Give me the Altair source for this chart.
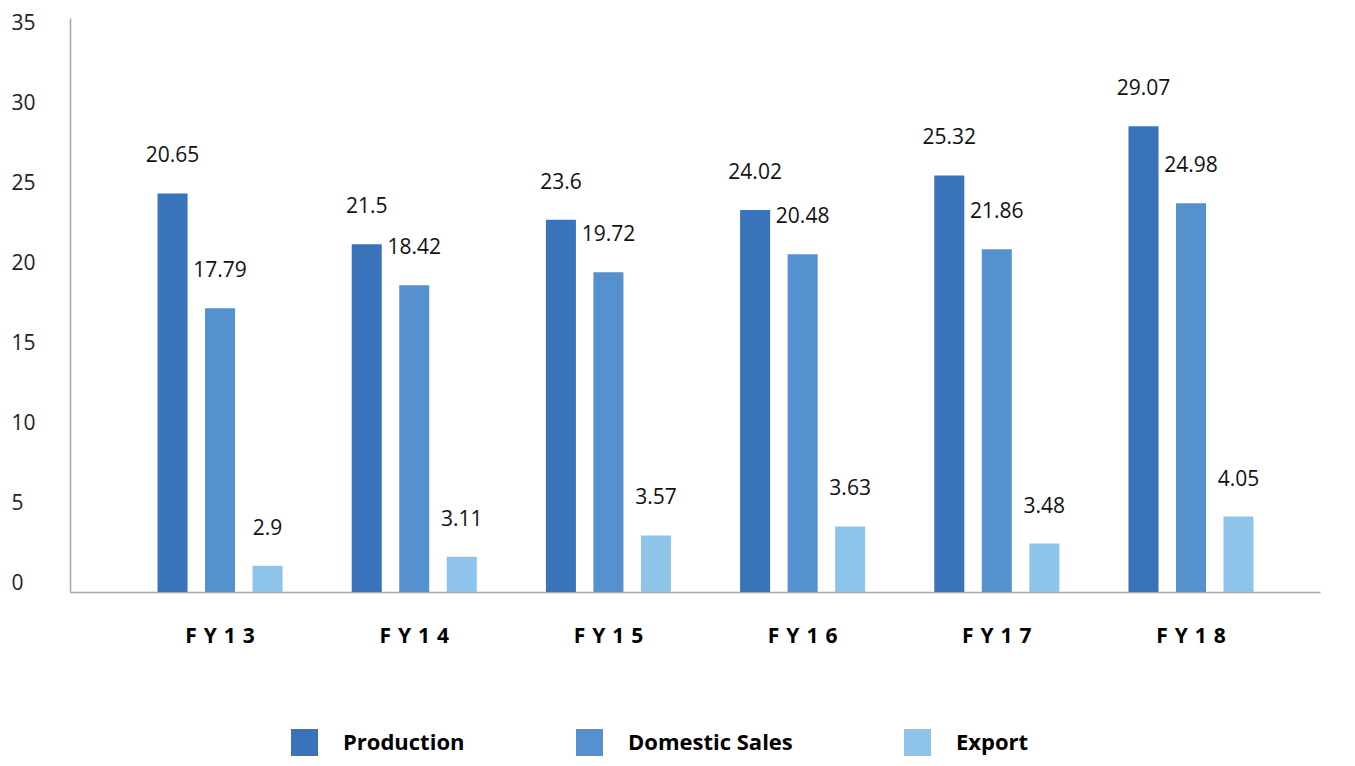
import altair as alt
import pandas as pd

years = ["FY13", "FY14", "FY15", "FY16", "FY17", "FY18"]
series = ["Production", "Domestic Sales", "Export"]
# bar heights as drawn in the picture
production_bar = [24.3, 21.2, 22.7, 23.3, 25.4, 28.4]
domestic_bar = [17.3, 18.7, 19.5, 20.6, 20.9, 23.7]
export_bar = [1.6, 2.15, 3.45, 4.0, 2.95, 4.6]
# values printed above the bars
production_label = [20.65, 21.5, 23.6, 24.02, 25.32, 29.07]
domestic_label = [17.79, 18.42, 19.72, 20.48, 21.86, 24.98]
export_label = [2.9, 3.11, 3.57, 3.63, 3.48, 4.05]
colors = ["#3973B9", "#5591CE", "#8EC3EA"]

rows = []
for i, y in enumerate(years):
    for s, bars, labs in zip(series,
                             [production_bar, domestic_bar, export_bar],
                             [production_label, domestic_label, export_label]):
        rows.append({"year": y, "series": s, "value": bars[i], "label": labs[i]})
df = pd.DataFrame(rows)

FONT = "Open Sans"

x = alt.X("year:N", sort=years, title=None,
          scale=alt.Scale(paddingInner=0, paddingOuter=0.2185, align=0.624),
          axis=alt.Axis(labelExpr="join(split(datum.label, ''), '\u2009\u2009')",
                        labelFont=FONT, labelFontSize=21, labelFontWeight="bold",
                        labelColor="#000000", labelPadding=33, labelAngle=0,
                        ticks=False, domainColor="#A6A6A6", domainWidth=1.5))
xo = alt.XOffset("series:N", sort=series,
                 scale=alt.Scale(paddingInner=0.368, paddingOuter=0.728))
y = alt.Y("value:Q", title=None,
          scale=alt.Scale(domain=[0, 35], nice=False),
          axis=alt.Axis(values=[0, 5, 10, 15, 20, 25, 30, 35], grid=False, ticks=False,
                        labelFont=FONT, labelFontSize=21, labelColor="#222222",
                        labelAlign="left", labelPadding=59,
                        labelOffset={"expr": "-8.5 + 0.4*datum.value"},
                        domainColor="#A6A6A6", domainWidth=1.5))

bars = alt.Chart(df).mark_bar().encode(
    x=x, xOffset=xo, y=y,
    color=alt.Color("series:N", sort=series,
                    scale=alt.Scale(domain=series, range=colors),
                    legend=alt.Legend(title=None, orient="none", direction="horizontal",
                                      legendX=221, legendY=711, padding=0,
                                      symbolType="square", symbolSize=729,
                                      symbolStrokeWidth=0, symbolOpacity=1,
                                      labelFont=FONT, labelFontSize=22,
                                      labelFontWeight="bold", labelColor="#000000",
                                      labelOffset=25, columnPadding=111,
                                      labelLimit=400)),
)

text = alt.Chart(df).mark_text(font=FONT, fontSize=21, color="#111111",
                               baseline="middle", dy=-37).encode(
    x=alt.X("year:N", sort=years),
    xOffset=alt.XOffset("series:N", sort=series),
    y="value:Q",
    text=alt.Text("label:Q"),
)

chart = alt.layer(bars, text).properties(
    width=1250, height=574,
    padding={"left": 62, "top": 10, "right": 20, "bottom": 165},
    autosize=alt.AutoSizeParams(type="none"),
).configure_view(stroke=None)

chart.save("out.html", embed_options={"renderer": "svg", "actions": False})
